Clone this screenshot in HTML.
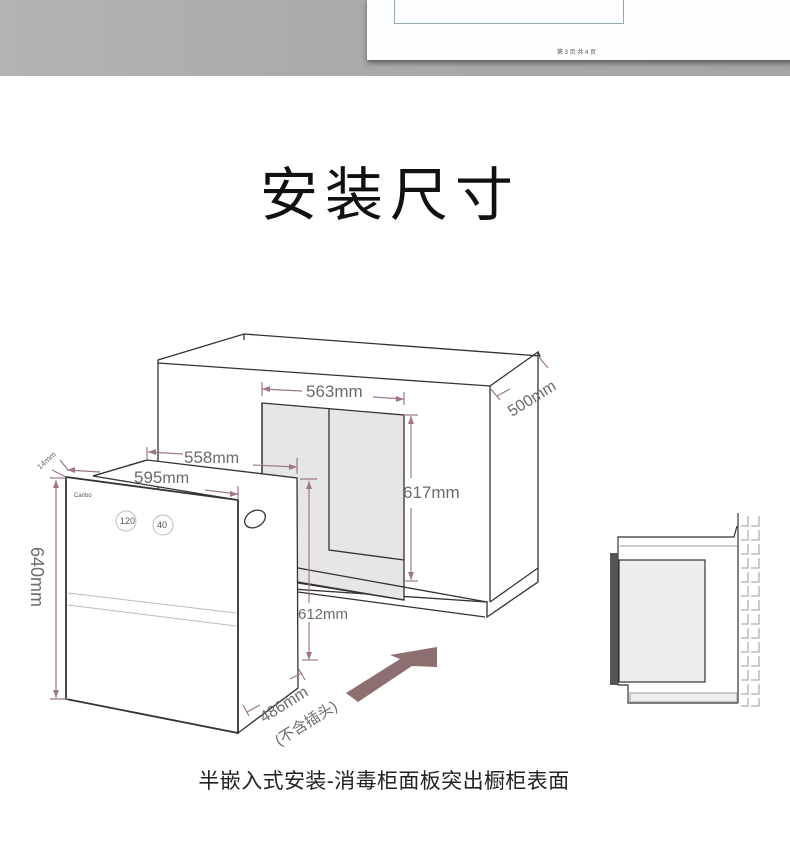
<!DOCTYPE html>
<html><head><meta charset="utf-8"><style>
html,body{margin:0;padding:0;background:#fff;}
body{width:790px;height:859px;position:relative;overflow:hidden;font-family:"Liberation Sans","Noto Sans CJK SC",sans-serif;}
.top{position:absolute;left:0;top:0;width:790px;height:76px;background:linear-gradient(90deg,#b4b2b3,#aaa8a9 50%,#a6a4a5);}
.paper{position:absolute;left:367px;top:0;width:430px;height:60px;background:#fdfeff;box-shadow:0 3px 5px rgba(0,0,0,.45);}
.frame{position:absolute;left:27px;top:-2px;width:228px;height:25px;border:1px solid #9aa;border-top:none;}
.pg{position:absolute;left:190px;top:47px;font-size:6px;color:#555;}
.title{position:absolute;left:0;width:780px;top:148px;text-align:center;font-size:58px;letter-spacing:7px;color:#111;}
.cap{position:absolute;left:0;width:768px;top:765px;text-align:center;font-size:21px;letter-spacing:0.4px;color:#222;}
</style></head><body>
<div class="top"><div class="paper"><div class="frame"></div><div class="pg">第 3 页 共 4 页</div></div></div>
<div class="title">安装尺寸</div>
<svg width="790" height="859" style="position:absolute;left:0;top:0" xmlns="http://www.w3.org/2000/svg">
<g stroke="#333" stroke-width="1.3" fill="none">
<polygon points="158,363 490,386 538,352 538,582 487,617 487,602 158,580" fill="#fff"/>
<polyline points="158,363 158,360 244,334 540,356 538,352"/>
<line x1="244" y1="334" x2="244" y2="340"/>
<line x1="490" y1="386" x2="490" y2="602"/>
<polyline points="490,602 538,568"/>
<polygon points="262,403 404,415 404,600 298,582 262,580" fill="#e6e6e6"/>
<polyline points="329,408 329,550 404,560"/>
<line x1="298" y1="568" x2="487" y2="602"/>
<line x1="298" y1="592" x2="485" y2="617"/>
<polyline points="298,583 404,600"/>
<line x1="262" y1="403" x2="262" y2="480"/>
</g>
<g stroke="#333" stroke-width="1.3">
<polygon points="93,476 147,460 297,478 298,688 238,733 238,500" fill="#fff"/>
<polygon points="66,477 238,500 238,733 66,699" fill="#fff" stroke-width="1.8"/>
<line x1="147" y1="460" x2="93" y2="476"/>
<ellipse cx="255" cy="519" rx="11" ry="8" transform="rotate(-30 255 519)" fill="#fff"/>
</g>
<g stroke="#bbb" stroke-width="1" fill="none">
<line x1="68" y1="593" x2="236" y2="613"/>
<line x1="68" y1="605" x2="236" y2="626"/>
<circle cx="126" cy="521" r="10"/><circle cx="163" cy="525" r="10"/>
</g>
<g font-size="6" fill="#555"><text x="74" y="497">Canbo</text><text x="120" y="524" font-size="9">120</text><text x="157" y="528" font-size="9">40</text></g>
<g stroke="#333" stroke-width="1.2" fill="none">
<polyline points="737,526 734,537 618,537 618,685 628,685 628,703 738,703"/>
<line x1="738" y1="513" x2="738" y2="703"/>
<line x1="620" y1="546" x2="737" y2="546" stroke="#aaa"/>
<rect x="619" y="560" width="86" height="122" fill="#eee"/>
<rect x="630" y="693" width="107" height="9" fill="#eee" stroke="#aaa"/>
</g>
<rect x="610" y="553" width="8" height="132" fill="#555"/>
<g stroke="#999" stroke-width="1" fill="none">
<path d="M741 526h7v-10M751 526h8v-10M741 540h7v-10M751 540h8v-10M741 554h7v-10M751 554h8v-10M741 568h7v-10M751 568h8v-10M741 582h7v-10M751 582h8v-10M741 596h7v-10M751 596h8v-10M741 610h7v-10M751 610h8v-10M741 624h7v-10M751 624h8v-10M741 638h7v-10M751 638h8v-10M741 652h7v-10M751 652h8v-10M741 666h7v-10M751 666h8v-10M741 680h7v-10M751 680h8v-10M741 694h7v-10M751 694h8v-10M741 706h7v-8M751 706h8v-8"/>
</g>
<g stroke="#a07880" stroke-width="1.2" fill="none">
<line x1="262" y1="389" x2="302" y2="391"/><line x1="373" y1="397" x2="404" y2="399"/>
<line x1="262" y1="382" x2="262" y2="396"/><line x1="404" y1="392" x2="404" y2="405"/>
<line x1="411" y1="416" x2="411" y2="478"/><line x1="411" y1="508" x2="411" y2="580"/>
<line x1="404" y1="415" x2="418" y2="415"/><line x1="404" y1="581" x2="418" y2="581"/>
<line x1="148" y1="452" x2="183" y2="454"/><line x1="253" y1="465" x2="297" y2="467"/>
<line x1="147" y1="447" x2="147" y2="460"/><line x1="297" y1="458" x2="297" y2="474"/>
<line x1="67" y1="470" x2="100" y2="472"/><line x1="205" y1="490" x2="238" y2="494"/>
<line x1="238" y1="486" x2="238" y2="500"/>
<line x1="56" y1="480" x2="56" y2="698"/><line x1="50" y1="699" x2="68" y2="699"/><line x1="50" y1="478" x2="66" y2="478"/>
<line x1="309" y1="481" x2="309" y2="603"/><line x1="309" y1="622" x2="309" y2="660"/><line x1="300" y1="479" x2="317" y2="479"/><line x1="302" y1="660" x2="318" y2="660"/>
<line x1="247" y1="712" x2="260" y2="705"/><line x1="290" y1="679" x2="302" y2="673"/><line x1="243" y1="705" x2="249" y2="716"/><line x1="298" y1="668" x2="305" y2="680"/>
<line x1="490" y1="388" x2="500" y2="400"/><line x1="538" y1="356" x2="548" y2="368"/><line x1="497" y1="396" x2="510" y2="389"/>
<line x1="52" y1="470" x2="66" y2="477"/><line x1="60" y1="460" x2="68" y2="470"/>
</g>
<g fill="#a07880">
<polygon points="262,389 270,386 270,392"/><polygon points="404,399 396,396 396,402"/>
<polygon points="411,416 408,424 414,424"/><polygon points="411,580 408,572 414,572"/>
<polygon points="148,452 156,449 156,455"/><polygon points="297,467 289,464 289,470"/>
<polygon points="67,470 75,467 75,473"/><polygon points="238,494 230,491 230,497"/>
<polygon points="56,480 53,488 59,488"/><polygon points="56,698 53,690 59,690"/>
<polygon points="309,481 306,489 312,489"/><polygon points="309,660 306,652 312,652"/>
<polygon points="346,693 358,702 412,666 437,667 437,647 390,655 400,659" fill="#8d6f71"/>
</g>
<g fill="#6e6a6c" font-size="17">
<text x="306" y="397">563mm</text>
<text x="403" y="498">617mm</text>
<text x="184" y="463">558<tspan font-size="16">mm</tspan></text>
<text x="134" y="483">595<tspan font-size="16">mm</tspan></text>
<text x="298" y="619" font-size="15">612mm</text>
<text transform="translate(512,417) rotate(-32)" font-size="16">500mm</text>
<text transform="translate(31,547) rotate(90)" font-size="18">640mm</text>
<text transform="translate(40,470) rotate(-42)" font-size="8">14mm</text>
<text transform="translate(264,723) rotate(-32)" font-size="16">486mm</text>
<text transform="translate(279,746) rotate(-32)" font-size="15">(不含插头)</text>
</g>
</svg>
<div class="cap">半嵌入式安装-消毒柜面板突出橱柜表面</div>
</body></html>
